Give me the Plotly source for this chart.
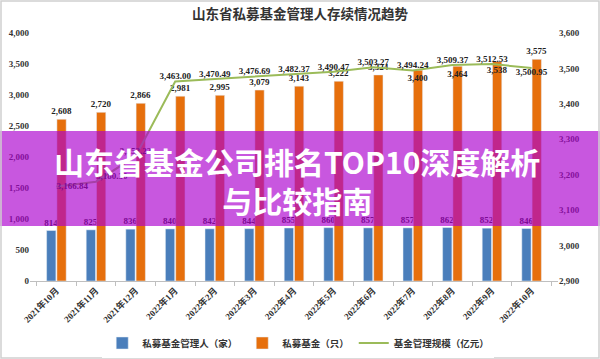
import plotly.graph_objects as go

months = ["2021年10月", "2021年11月", "2021年12月", "2022年1月", "2022年2月", "2022年3月",
          "2022年4月", "2022年5月", "2022年6月", "2022年7月", "2022年8月", "2022年9月", "2022年10月"]
managers = [814, 825, 836, 840, 842, 844, 855, 860, 857, 857, 862, 852, 846]
funds = [2608, 2720, 2866, 2981, 2995, 3079, 3143, 3222, 3324, 3400, 3464, 3538, 3575]
scale = [3166.84, 3180.30, 3252.22, 3463.00, 3470.49, 3476.69, 3482.37, 3490.47,
         3503.27, 3494.24, 3509.37, 3512.53, 3500.95]

title_text = "山东省私募基金管理人存续情况趋势"
banner_text = "山东省基金公司排名TOP10深度解析<br>与比较指南"

W, H = 600, 359
L, R, T, B = 30, 42, 33, 78
pw, ph = W - L - R, H - T - B

def px(x):
    return (x - L) / pw

def py(y):
    return (H - B - y) / ph

serif = "Liberation Serif, Noto Sans CJK SC"
BLUE = "#4A7EBB"
ORANGE = "#E66F0C"
GREEN = "#9BBB59"
lab_font = dict(family=serif, size=9, color="#222", weight="bold")
tick_font = dict(family=serif, size=9, color="#333", weight="bold")

fig = go.Figure()
fig.add_trace(go.Bar(
    x=months, y=managers, name="私募基金管理人（家）", marker_color=BLUE,
    text=[f"{v:,}" for v in managers], textposition="outside", constraintext="none",
    textfont=lab_font, cliponaxis=False))
fund_pos = ["outside"] * 9 + ["inside"] * 3 + ["outside"]
fig.add_trace(go.Bar(
    x=months, y=funds, name="私募基金（只）", marker_color=ORANGE,
    text=[f"{v:,}" for v in funds], textposition=fund_pos, constraintext="none",
    insidetextanchor="end", textangle=0,
    textfont=lab_font, insidetextfont=lab_font, outsidetextfont=lab_font, cliponaxis=False))
pos = ["middle right", "top right", "top center"] + ["top center"] * 9 + ["bottom center"]
fig.add_trace(go.Scatter(
    x=months, y=scale, name="基金管理规模（亿元）", yaxis="y2", mode="lines+text",
    line=dict(color=GREEN, width=2),
    text=[f"{v:,.2f}" for v in scale], textposition=pos,
    textfont=lab_font, cliponaxis=False))

fig.update_layout(
    width=W, height=H,
    margin=dict(l=L, r=R, t=T, b=B, autoexpand=False),
    paper_bgcolor="white", plot_bgcolor="white",
    font=dict(family=serif, size=9, color="#333"),
    barmode="group", bargap=0.48, bargroupgap=0.1,
    showlegend=True,
    legend=dict(orientation="h", x=0.508, xanchor="center", y=-0.25, yanchor="middle",
                font=dict(family=serif, size=9.5, color="#333", weight="bold"),
                itemwidth=30, tracegroupgap=0),
    xaxis=dict(type="category", showline=True, linecolor="#bfbfbf", linewidth=1,
               ticks="outside", tickson="boundaries", ticklen=4, tickcolor="#bfbfbf",
               tickangle=-45, tickfont=tick_font, automargin=False,
               showgrid=False),
    yaxis=dict(range=[0, 4000], dtick=500, tickformat=",", showgrid=False,
               zeroline=False, showline=False, automargin=False, ticklen=0,
               tickfont=tick_font),
    yaxis2=dict(range=[2900, 3600], dtick=100, tickformat=",", overlaying="y", side="right",
                showgrid=False, zeroline=False, showline=False, automargin=False,
                tickfont=tick_font),
)

fig.add_annotation(text=title_text, xref="paper", yref="paper",
                   x=px(300), y=py(14), xanchor="center", yanchor="middle", showarrow=False,
                   font=dict(family=serif, size=13.5, color="#333", weight="bold"))

# translucent banner
fig.add_shape(type="rect", xref="paper", yref="paper", layer="above",
              x0=px(0), x1=px(600), y0=py(226), y1=py(131),
              fillcolor="rgba(172,0,206,0.66)", line_width=0)
fig.add_annotation(text="<b>" + banner_text + "</b>", xref="paper", yref="paper",
                   x=px(297), y=py(180), xanchor="center", yanchor="middle", showarrow=False,
                   font=dict(family="Noto Sans CJK SC", size=30, color="white"))

# outer frame
fig.add_shape(type="rect", xref="paper", yref="paper", layer="above",
              x0=px(1), x1=px(599), y0=py(358), y1=py(1),
              fillcolor="rgba(0,0,0,0)", line=dict(color="#d0d0d0", width=1.5))

fig.write_html("out.html", config={"displayModeBar": False},
               post_script="document.body.style.margin='0';document.body.style.overflow='hidden';")
